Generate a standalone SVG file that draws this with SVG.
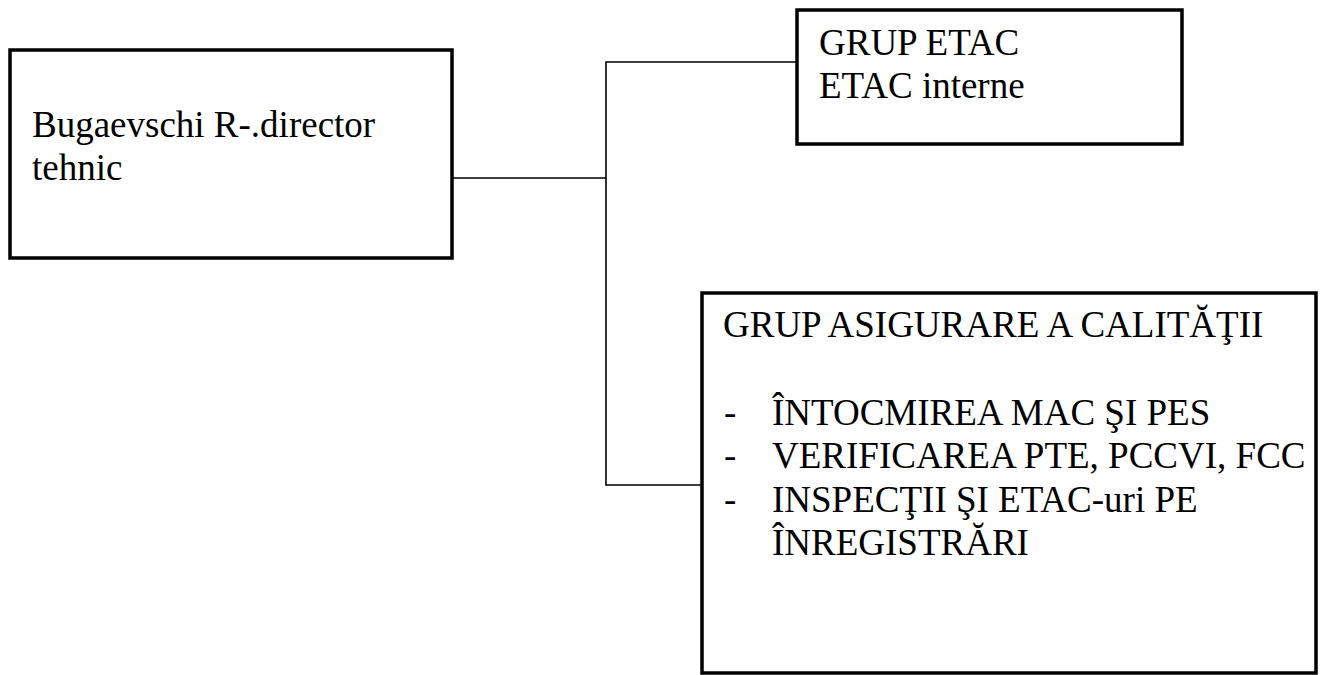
<svg xmlns="http://www.w3.org/2000/svg" width="1327" height="675" viewBox="0 0 1327 675">
<style>
.box{fill:#fff;stroke:#000;stroke-width:3.5}
.conn{fill:none;stroke:#000;stroke-width:1.6}
.t{font-family:"Liberation Serif","Times New Roman",serif;font-size:37px;fill:#000}
</style>
<rect width="1327" height="675" fill="#fff"/>
<g id="connectors">
<polyline class="conn" points="452,178 606,178"/>
<polyline class="conn" points="797,62 606,62 606,485 702,485"/>
</g>
<g id="node-director">
<rect class="box" x="10" y="50" width="442" height="208"/>
<text class="t" x="32" y="137">Bugaevschi R-.director</text>
<text class="t" x="32" y="180">tehnic</text>
</g>
<g id="node-etac">
<rect class="box" x="797" y="10" width="385" height="134"/>
<text class="t" x="819" y="55">GRUP ETAC</text>
<text class="t" x="819" y="98">ETAC interne</text>
</g>
<g id="node-calitate">
<rect class="box" x="702" y="293" width="614" height="380"/>
<text class="t" x="723" y="337">GRUP ASIGURARE A CALITĂŢII</text>
<text class="t" x="724" y="425">-</text>
<text class="t" x="772" y="425">ÎNTOCMIREA MAC ŞI PES</text>
<text class="t" x="724" y="468">-</text>
<text class="t" x="772" y="468">VERIFICAREA PTE, PCCVI, FCC</text>
<text class="t" x="724" y="512">-</text>
<text class="t" x="772" y="512">INSPECŢII ŞI ETAC-uri PE</text>
<text class="t" x="772" y="555">ÎNREGISTRĂRI</text>
</g>
</svg>
